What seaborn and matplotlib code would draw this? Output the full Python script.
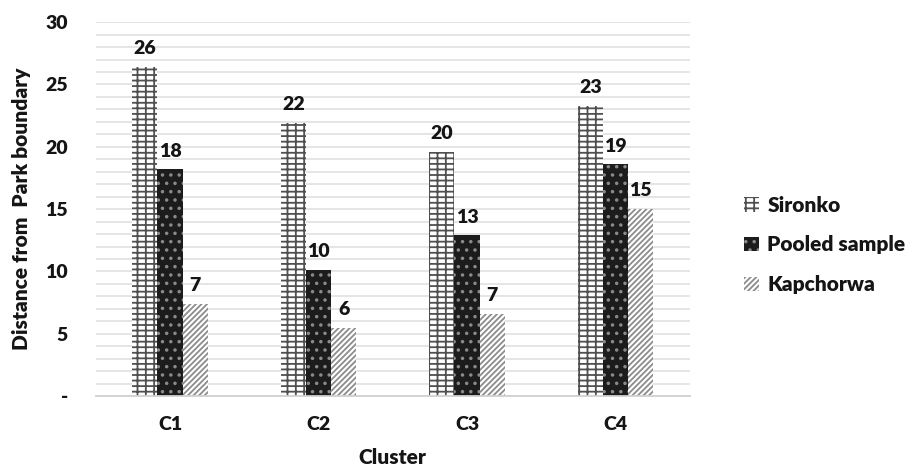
import numpy as np
import pandas as pd
import matplotlib
matplotlib.use('Agg')
import matplotlib.pyplot as plt
from matplotlib.ticker import MultipleLocator, FuncFormatter
from matplotlib.patches import Patch
import seaborn as sns

# values
clusters = ['C1', 'C2', 'C3', 'C4']
sironko = [26.4, 21.9, 19.6, 23.3]
pooled = [18.2, 10.1, 12.9, 18.6]
kapchorwa = [7.4, 5.5, 6.6, 15.0]
series = ['Sironko', 'Pooled sample', 'Kapchorwa']

data = pd.DataFrame({
    'Cluster': clusters * 3,
    'Distance': sironko + pooled + kapchorwa,
    'Group': [s for s in series for _ in clusters],
})

sns.set_theme(style='white')
plt.rcParams['font.family'] = ['Lato', 'DejaVu Sans']
plt.rcParams['font.weight'] = 'bold'
plt.rcParams['hatch.linewidth'] = 1.3

fig = plt.figure(figsize=(9.21, 4.71), dpi=100)
ax = fig.add_axes([0.104, 0.159, 0.645, 0.794])

ax = sns.barplot(data=data, x='Cluster', y='Distance', hue='Group',
                 hue_order=series, width=0.51, ax=ax, legend=False)

# fill styles: bricks-ish, dark dotted, light diagonal
styles = {
    'Sironko': dict(face='white', edge='#505050', hatch='---||'),
    'Pooled sample': dict(face='#1c1c1c', edge='#8a8a8a', hatch='..'),
    'Kapchorwa': dict(face='white', edge='#8c8c8c', hatch='//////'),
}
txt = '#151515'
for name, cont in zip(series, ax.containers):
    st = styles[name]
    for bar in cont:
        bar.set_facecolor(st['face'])
        bar.set_edgecolor(st['edge'])
        bar.set_hatch(st['hatch'])
        bar.set_linewidth(0)
    ax.bar_label(cont, fmt='%.0f', padding=7, fontsize=14, fontweight='heavy',
                 color=txt)

ax.set_ylim(0, 30)
ax.set_xlim(-0.5, 3.5)
ax.yaxis.set_major_locator(MultipleLocator(5))
ax.yaxis.set_minor_locator(MultipleLocator(1))
ax.yaxis.set_major_formatter(FuncFormatter(lambda v, p: '-' if v == 0 else f'{v:.0f}'))
ax.grid(axis='y', which='both', color='#e3e3e3', linewidth=1.3)
ax.set_axisbelow(True)
for side in ['top', 'right', 'left']:
    ax.spines[side].set_visible(False)
ax.spines['bottom'].set_color('#d0d0d0')
ax.spines['bottom'].set_linewidth(1.3)
ax.tick_params(axis='both', which='both', length=0, labelsize=14, colors=txt)
ax.tick_params(axis='x', pad=14)
ax.tick_params(axis='y', pad=20)
for t in ax.get_xticklabels() + ax.get_yticklabels():
    t.set_fontweight('heavy')

ax.set_xlabel('Cluster', fontsize=15, fontweight='heavy', color=txt, labelpad=11)
ax.set_ylabel('Distance from  Park boundary', fontsize=15, fontweight='heavy',
              color=txt, labelpad=10)

handles = [Patch(facecolor=styles[s]['face'], edgecolor=styles[s]['edge'],
                 hatch=styles[s]['hatch'], linewidth=0, label=s) for s in series]
leg = fig.legend(handles=handles, loc='center left', bbox_to_anchor=(0.788, 0.48),
                 frameon=False, prop={'weight': 'heavy', 'size': 15},
                 handlelength=0.7, handleheight=0.7, handletextpad=0.4,
                 labelspacing=1.0)
for t in leg.get_texts():
    t.set_color(txt)

fig.savefig('out.png', dpi=100)
